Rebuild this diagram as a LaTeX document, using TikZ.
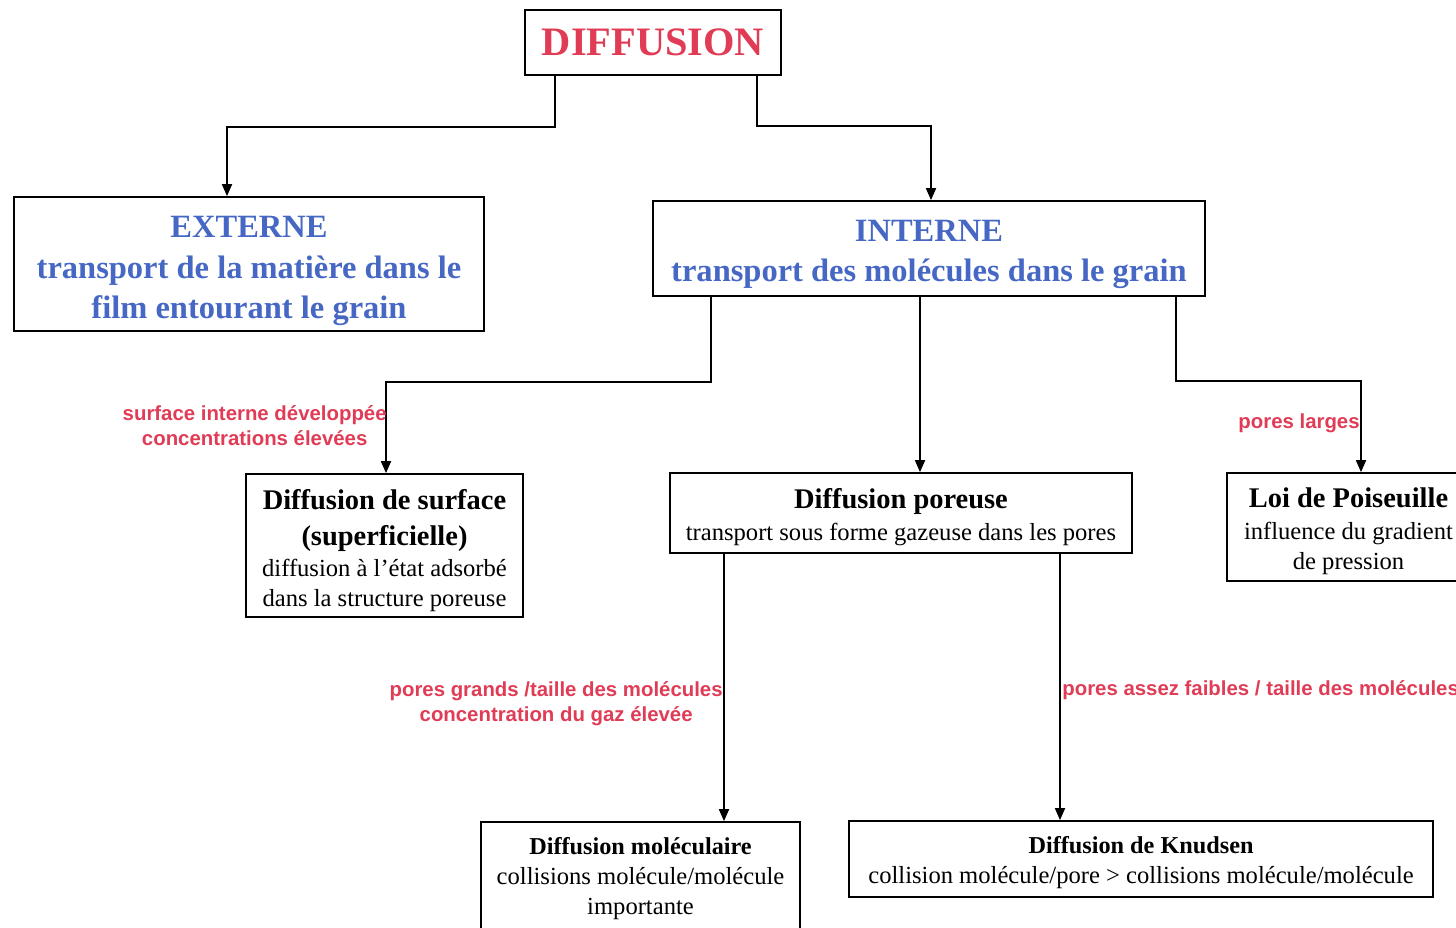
\documentclass[tikz,border=0pt]{standalone}
\usepackage{fontspec}
\setmainfont{Liberation Serif}
\newfontfamily\labelfont{Liberation Sans}
\usetikzlibrary{arrows.meta, positioning}

\definecolor{diffred}{RGB}{224,60,86}
\definecolor{diffblue}{RGB}{70,104,196}

\newcommand{\bighead}[1]{{\fontsize{16.2}{19.8}\selectfont\bfseries #1}}
\newcommand{\smallhead}[1]{{\fontsize{13.8}{17}\selectfont\bfseries #1}}

\begin{document}
\begin{tikzpicture}[x=0.02cm, y=-0.02cm, >={Triangle[length=2.4mm, width=2mm]},
  frame/.style={draw, line width=1pt, inner sep=0pt},
  boxtext/.style={align=center, inner sep=0pt, font=\fontsize{14}{17}\selectfont},
  bluetext/.style={boxtext, text=diffblue, font=\fontsize{18.5}{22.9}\selectfont\bfseries},
  link/.style={->, line width=1pt},
  cond/.style={font=\labelfont\bfseries\fontsize{11.6}{14.2}\selectfont,
               text=diffred, align=center, inner sep=0pt}]
  \useasboundingbox (0,0) rectangle (1456,927);
  \clip (0,0) rectangle (1456,927);

  % Top level
  \node[frame, minimum width=5.12cm, minimum height=1.3cm, text=diffred,
        font=\fontsize{23}{27}\selectfont\bfseries] (diff) at (653,42.5) {DIFFUSION};
  \node[frame, minimum width=9.4cm, minimum height=2.68cm] (ext) at (249,264) {};
  \node[bluetext] (exttxt) at (249,271)
    {EXTERNE\\transport de la matière dans le\\film entourant le grain};
  \node[frame, minimum width=11.04cm, minimum height=1.9cm] (int) at (929,248.5) {};
  \node[bluetext] (inttxt) at (929,254.5)
    {INTERNE\\transport des molécules dans le grain};

  % Internal diffusion modes
  \node[frame, minimum width=5.54cm, minimum height=2.86cm] (surf) at (384.5,545.5) {};
  \node[boxtext] (surftxt) at (384.5,550.5)
    {\bighead{Diffusion de surface}\\[3.4pt]\bighead{(superficielle)}\\[0.4pt]
     diffusion à l’état adsorbé\\dans la structure poreuse};
  \node[frame, minimum width=9.24cm, minimum height=1.6cm] (por) at (901,513) {};
  \node[boxtext] (portxt) at (901,517.5)
    {\bighead{Diffusion poreuse}\\[1.3pt]transport sous forme gazeuse dans les pores};
  \node[frame, minimum width=4.86cm, minimum height=2.16cm] (pois) at (1348.5,527) {};
  \node[boxtext] (poistxt) at (1348.5,531.5)
    {\bighead{Loi de Poiseuille}\\[1.3pt]influence du gradient\\de pression};

  % Pore diffusion regimes
  \node[frame, minimum width=6.38cm, minimum height=2.24cm] (mol) at (640.5,878) {};
  \node[boxtext] (moltxt) at (640.5,878.5)
    {\smallhead{Diffusion moléculaire}\\collisions molécule/molécule\\importante};
  \node[frame, minimum width=11.68cm, minimum height=1.52cm] (knud) at (1141,859) {};
  \node[boxtext] (knudtxt) at (1141,862.5)
    {\smallhead{Diffusion de Knudsen}\\collision molécule/pore > collisions molécule/molécule};

  % Connectors
  \draw[link] (diff.south -| 555,0) -- ++(0,51) -| (ext.north -| 227,0);
  \draw[link] (diff.south -| 757,0) -- ++(0,50) -| (int.north -| 931,0);
  \draw[link] (int.south -| 711,0) -- ++(0,85) -| (surf.north -| 386,0);
  \draw[link] (int.south -| 920,0) -- (por.north -| 920,0);
  \draw[link] (int.south -| 1176,0) -- ++(0,84) -| (pois.north -| 1361,0);
  \draw[link] (por.south -| 724,0) -- (mol.north -| 724,0);
  \draw[link] (por.south -| 1060,0) -- (knud.north -| 1060,0);

  % Conditions
  \node[cond, anchor=east] (csurf) at (387,425.5)
    {surface interne développée\\concentrations élevées};
  \node[cond, anchor=east] (clarge) at (1360,423) {pores larges};
  \node[cond, anchor=east] (cgrand) at (723,703.5)
    {pores grands /taille des molécules\\concentration du gaz élevée};
  \node[cond, anchor=west] (cfaible) at (1062,690)
    {pores assez faibles / taille des molécules};
\end{tikzpicture}
\end{document}
